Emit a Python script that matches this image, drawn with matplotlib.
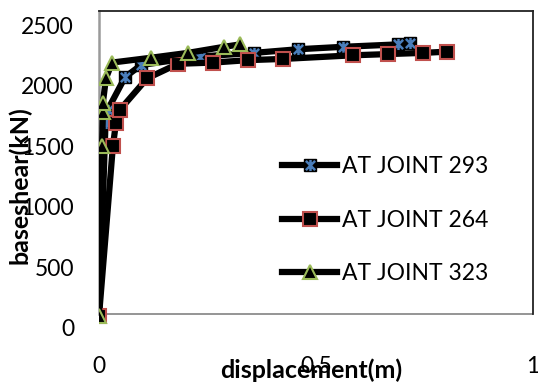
import matplotlib
matplotlib.use("Agg")
import matplotlib.pyplot as plt
from matplotlib.path import Path
from matplotlib.lines import Line2D

plt.rcParams['font.family'] = ['Lato', 'DejaVu Sans']

# Pushover curves: displacement (m) vs base shear (kN)
disp_293 = [0.0, 0.015, 0.02, 0.060, 0.097, 0.233, 0.357, 0.459, 0.562, 0.689, 0.717]
shear_293 = [100, 1690, 1800, 2070, 2170, 2240, 2270, 2300, 2320, 2340, 2350]

disp_264 = [0.0, 0.032, 0.039, 0.048, 0.111, 0.182, 0.263, 0.343, 0.424, 0.585, 0.666, 0.747, 0.802]
shear_264 = [100, 1500, 1690, 1800, 2060, 2180, 2190, 2210, 2220, 2250, 2260, 2270, 2280]

disp_323 = [0.0, 0.007, 0.009, 0.009, 0.016, 0.030, 0.120, 0.205, 0.288, 0.325]
shear_323 = [100, 1500, 1780, 1860, 2060, 2190, 2230, 2270, 2320, 2340]

labels = ["AT JOINT 293", "AT JOINT 264", "AT JOINT 323"]
x_ticks = [0, 0.5, 1]
x_tick_labels = ["0", "0.5", "1"]
y_ticks = [0, 500, 1000, 1500, 2000, 2500]

W, H = 538, 387
fig = plt.figure(figsize=(W / 100, H / 100), dpi=100)

y0_px, ytop_px = 328, 10.7
left_px, right_px = 99, 533
ax = fig.add_axes([left_px / W, 1 - y0_px / H, (right_px - left_px) / W, (y0_px - ytop_px) / H])

px_per_unit = 0.1212
ymax = (y0_px - ytop_px) / px_per_unit
ybox = (y0_px - 313.7) / px_per_unit
ax.set_xlim(0, 1)
ax.set_ylim(0, ymax)

# asterisk marker: X with a vertical stroke
star = Path([(-1, -1), (1, 1), (-1, 1), (1, -1), (0, -1.2), (0, 1.2)],
            [Path.MOVETO, Path.LINETO, Path.MOVETO, Path.LINETO, Path.MOVETO, Path.LINETO])

lw = 4.5
ax.plot(disp_293, shear_293, color='black', lw=lw, marker='s', ms=9,
        mfc='black', mec='black', zorder=3, solid_joinstyle='round')
ax.plot(disp_293, shear_293, ls='none', marker=star, ms=8, mec='#4A7EBB',
        mew=1.8, zorder=3.1)
ax.plot(disp_264, shear_264, color='black', lw=lw, marker='s', ms=9.5,
        mfc='black', mec='#C0504D', mew=1.5, zorder=4, solid_joinstyle='round')
ax.plot(disp_323, shear_323, color='black', lw=lw, marker='^', ms=10,
        mfc='black', mec='#9BBB59', mew=1.5, zorder=5, solid_joinstyle='round')

# plot-area frame
for s in ax.spines.values():
    s.set_linewidth(1.3)
ax.spines['bottom'].set_visible(False)
ax.spines['left'].set_bounds(ybox, ymax)
ax.spines['left'].set_color('#9a9a9a')
ax.spines['left'].set_linewidth(1.8)
ax.spines['right'].set_bounds(ybox, ymax)
ax.spines['right'].set_color('#222222')
ax.spines['top'].set_color('#222222')
ax.axhline(ybox, color='#8c8c8c', lw=1.3, zorder=2)

ax.set_xticks(x_ticks)
ax.set_xticklabels(x_tick_labels)
ax.set_yticks(y_ticks)
ax.tick_params(axis='both', length=0, labelsize=16.5)
ax.tick_params(axis='y', pad=18)
ax.tick_params(axis='x', pad=20)

fig.text(311 / W, 1 - 370 / H, "displacement(m)", ha='center', va='center',
         fontsize=18, fontweight='bold')
fig.text(20 / W, 1 - 185 / H, "baseshear(kN)", ha='center', va='center',
         rotation=90, fontsize=18, fontweight='bold')

h293 = (Line2D([], [], color='black', lw=lw, marker='s', ms=9, mfc='black', mec='black'),
        Line2D([], [], ls='none', marker=star, ms=8, mec='#4A7EBB', mew=1.8))
h264 = Line2D([], [], color='black', lw=lw, marker='s', ms=9.5, mfc='black',
              mec='#C0504D', mew=1.5)
h323 = Line2D([], [], color='black', lw=lw, marker='^', ms=10, mfc='black',
              mec='#9BBB59', mew=1.5)
fig.legend([h293, h264, h323], labels, loc='upper left',
           bbox_to_anchor=(282 / W, 1 - 156 / H), frameon=False, fontsize=16.5,
           handlelength=2.4, handletextpad=0.22, labelspacing=1.42, borderpad=0,
           borderaxespad=0)

fig.savefig("out.png", dpi=100)
